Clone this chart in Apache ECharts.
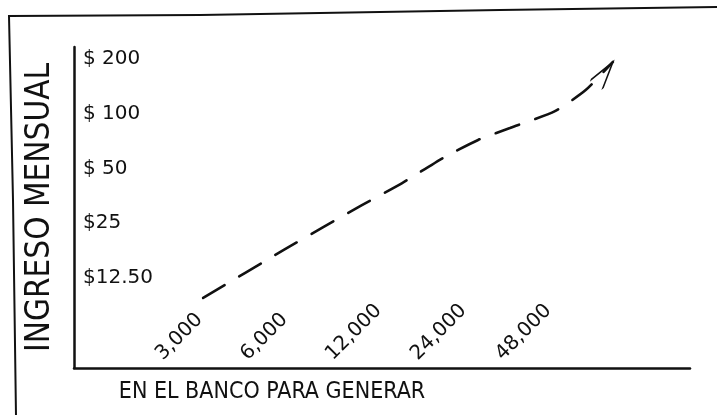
<!DOCTYPE html>
<html>
<head>
<meta charset="utf-8">
<script src="https://cdn.jsdelivr.net/npm/echarts@6/dist/echarts.min.js"></script>
<style>
  html, body { margin: 0; padding: 0; background: #ffffff; }
  #chart { width: 717px; height: 415px; }
</style>
</head>
<body>
<div id="chart"></div>
<script>
// Savings kept in the bank (x) and the monthly income they generate (y); both axes double per step.
const depositTicks = [3000, 6000, 12000, 24000, 48000];
const depositLabels = ['3,000', '6,000', '12,000', '24,000', '48,000'];
const incomeTicks = [12.5, 25, 50, 100, 200];
const incomeLabels = ['$12.50', '$25', '$ 50', '$ 100', '$ 200'];

// Points along the dashed trend arrow (deposit, monthly income)
const trendDeposit = [4300, 8300, 15700, 21800, 30400, 40500, 52500, 75800, 97600, 121600];
const trendIncome = [9.7, 17.8, 31.4, 41.5, 57, 71.6, 83.3, 103, 135, 192];

const xTitle = 'EN EL BANCO PARA GENERAR';
const yTitle = 'INGRESO MENSUAL';

const INK = '#111111';
const NARROW = '"Liberation Sans Narrow", "DejaVu Sans Condensed", "Liberation Sans", sans-serif';
const DIGITS = '"DejaVu Sans", "Liberation Sans", sans-serif';

function labelFor(ticks, labels) {
  return function (v) {
    for (let i = 0; i < ticks.length; i++) {
      if (Math.abs(ticks[i] - v) / ticks[i] < 1e-6) return labels[i];
    }
    return '';
  };
}

const trendData = trendDeposit.map(function (x, i) {
  const item = { value: [x, trendIncome[i]] };
  if (i === trendDeposit.length - 1) {
    // open arrow head whose tip sits on the last point
    item.symbol = 'path://M0 28 L7.5 0 L15 28 M7.5 -28';
    item.symbolSize = [15, 56];
    item.symbolRotate = -36;
    item.itemStyle = { color: 'rgba(0,0,0,0)', borderColor: INK, borderWidth: 2.2 };
  }
  return item;
});

const chart = echarts.init(document.getElementById('chart'), null, { renderer: 'canvas' });

chart.setOption({
  backgroundColor: '#ffffff',
  animation: false,
  grid: { left: 74, top: 47, right: 27, bottom: 47, containLabel: false },
  xAxis: {
    type: 'log',
    logBase: 2,
    min: 1500,
    max: 228000,
    name: xTitle,
    nameLocation: 'middle',
    nameGap: 13,
    nameTextStyle: {
      color: INK, fontFamily: NARROW, fontSize: 23,
      padding: [0, 220, 0, 0]
    },
    axisLine: { show: true, lineStyle: { color: INK, width: 2.5 } },
    axisTick: { show: false },
    splitLine: { show: false },
    axisLabel: {
      inside: true,
      rotate: 45,
      margin: 11,
      color: INK,
      fontFamily: DIGITS,
      fontSize: 20,
      customValues: depositTicks,
      formatter: labelFor(depositTicks, depositLabels)
    }
  },
  yAxis: {
    type: 'log',
    logBase: 2,
    min: 4,
    max: 232,
    name: yTitle,
    nameLocation: 'middle',
    nameRotate: 90,
    nameGap: 17,
    nameTextStyle: { color: INK, fontFamily: NARROW, fontSize: 33 },
    axisLine: { show: true, lineStyle: { color: INK, width: 2.5 } },
    axisTick: { show: false },
    splitLine: { show: false },
    axisLabel: {
      inside: true,
      margin: 9,
      color: INK,
      fontFamily: DIGITS,
      fontSize: 20,
      customValues: incomeTicks,
      formatter: labelFor(incomeTicks, incomeLabels)
    }
  },
  series: [
    {
      type: 'line',
      data: trendData,
      smooth: 0.2,
      symbol: 'none',
      showSymbol: true,
      lineStyle: { color: INK, width: 2.6, type: [25, 17], cap: 'round' },
      z: 3
    }
  ],
  graphic: [
    {
      type: 'polyline',
      silent: true,
      shape: { points: [[16, 416], [13, 200], [9, 16], [200, 15], [500, 10], [717, 7]] },
      style: { stroke: INK, lineWidth: 2, fill: null }
    }
  ]
});
</script>
</body>
</html>
